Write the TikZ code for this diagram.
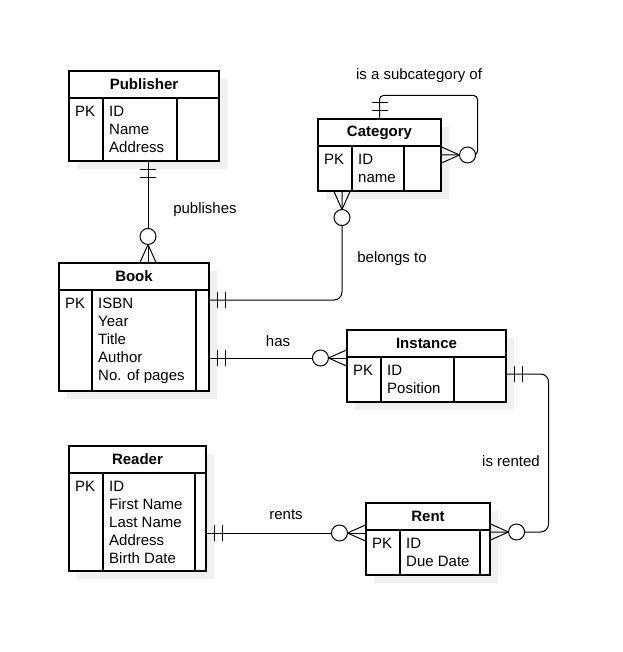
\documentclass[tikz,border=0pt]{standalone}
\usepackage{fontspec}
\setmainfont{Liberation Sans}
\usetikzlibrary{calc,shadows}
\tikzset{
  ent/.style={draw, line width=1.1pt, fill=white, inner sep=0pt,
    drop shadow={shadow xshift=8pt, shadow yshift=-8pt, fill=black!6, opacity=1}},
  inner/.style={line width=1.1pt},
  conn/.style={line width=1pt},
  txt/.style={inner sep=0pt},
  lbl/.style={inner sep=0pt},
}
\newcommand\entity[9]{%
  \node[ent, minimum width={#4pt-#2pt}, minimum height={#5pt-#3pt}] (#1) at ({(#2+#4)/2},{(#3+#5)/2}) {};
  \draw[inner] ({#2},{#3+27}) -- ({#4},{#3+27});
  \draw[inner] ({#6},{#3+27}) -- ({#6},{#5});
  \draw[inner] ({#7},{#3+27}) -- ({#7},{#5});
  \node[txt] (#1-title) at ({(#2+#4)/2},{#3+13.5}) {\bfseries #8};
  \node[txt, anchor=base west] (#1-pk) at ({#2+6},{#3+45.4}) {PK};
  \foreach \t [count=\i] in {#9} {
    \node[txt, anchor=base west] (#1-f\i) at ({#6+6},{#3+45.4+18*(\i-1)}) {\t};
  }
}
\newcommand\mandone[2]{%
  \begin{scope}[shift={(#1)}, rotate=#2]
    \draw[conn] (8,-8) -- (8,8) (16,-8) -- (16,8);
  \end{scope}}
\newcommand\zeromany[2]{%
  \begin{scope}[shift={(#1)}, rotate=#2]
    \draw[conn] (0,8) -- (18,0) -- (0,-8);
    \draw[conn, fill=white] (26,0) circle (8pt);
  \end{scope}}
\begin{document}
\begin{tikzpicture}[x=1pt, y=-1pt, font=\fontsize{15}{18}\selectfont]
\useasboundingbox (0,0) rectangle (622,652);

\entity{pub}{69}{71}{219}{161}{103}{177}{Publisher}{ID,Name,Address}
\entity{cat}{318}{119}{441}{191}{352}{404}{Category}{ID,name}
\entity{book}{59}{263}{209}{391}{92}{196}{Book}{ISBN,Year,Title,Author,No. of pages}
\entity{inst}{347}{330}{506}{402}{381}{454}{Instance}{ID,Position}
\entity{reader}{69}{446}{206}{571}{103}{195}{Reader}{ID,First Name,Last Name,Address,Birth Date}
\entity{rent}{366}{503}{490}{575}{400}{480}{Rent}{ID,Due Date}

% publishes
\draw[conn] ([xshift=4pt]pub.south) coordinate (pA) -- (pA |- book.north) coordinate (pB);
% belongs to
\draw[conn, rounded corners=8pt] ([xshift=-37.5pt]cat.south) coordinate (cA) |- ([yshift=27pt]book.east) coordinate (cB);
% has
\draw[conn] ([yshift=-31pt]book.east) coordinate (hA) -- (hA -| inst.west) coordinate (hB);
% is rented
\draw[conn, rounded corners=8pt] ([yshift=-8pt]inst.east) coordinate (iA) -| ([xshift=58pt,yshift=7pt]rent.east) -- ([yshift=7pt]rent.east) coordinate (iB);
% rents
\draw[conn] ([yshift=-24.5pt]reader.east) coordinate (rA) -- (rA -| rent.west) coordinate (rB);
% is a subcategory of
\draw[conn, rounded corners=4pt] (cat.north) coordinate (sA) -- ++(0,-23) -| ([xshift=36pt]cat.east) -- (cat.east) coordinate (sB);

\mandone{pA}{270}
\zeromany{pB}{90}
\zeromany{cA}{270}
\mandone{cB}{0}
\mandone{hA}{0}
\zeromany{hB}{180}
\mandone{iA}{0}
\zeromany{iB}{0}
\mandone{rA}{0}
\zeromany{rB}{180}
\mandone{sA}{90}
\zeromany{sB}{0}

\node[lbl] (l1) at (205,210) {publishes};
\node[lbl] (l2) at (392,259) {belongs to};
\node[lbl] (l3) at (278,341) {has};
\node[lbl] (l4) at (419,76) {is a subcategory of};
\node[lbl] (l5) at (511,461) {is rented};
\node[lbl] (l6) at (286,515) {rents};
\end{tikzpicture}
\end{document}
